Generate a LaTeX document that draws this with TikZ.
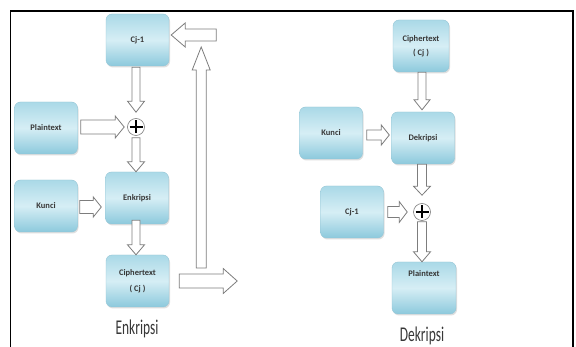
\documentclass[tikz,border=0pt]{standalone}
\usepackage{fontspec}
\setmainfont{Carlito}
\usetikzlibrary{calc,shadows}
\definecolor{boxtop}{RGB}{170,217,231}
\definecolor{boxmid}{RGB}{214,238,245}
\definecolor{boxbot}{RGB}{140,201,220}
\definecolor{boxedge}{RGB}{150,198,214}
\definecolor{txt}{RGB}{55,55,55}
\definecolor{arredge}{RGB}{125,125,125}
\newcommand\blockarr[5]{%
  \coordinate (bneck) at ($(#2)!#5!(#1)$);
  \draw[blk] ($(#1)!#3!90:(#2)$) -- ($(bneck)!#3!90:(#2)$) -- ($(bneck)!#4!90:(#2)$) -- (#2)
    -- ($(bneck)!#4!-90:(#2)$) -- ($(bneck)!#3!-90:(#2)$) -- ($(#1)!#3!-90:(#2)$) -- cycle;}
\newcommand\plussign[1]{%
  \draw[line width=1.7pt,black] ($(#1.center)+(-6.5,0)$) -- ($(#1.center)+(6.5,0)$);
  \draw[line width=1.7pt,black] ($(#1.center)+(0,-6.5)$) -- ($(#1.center)+(0,6.5)$);}
\newcommand\narrowtxt[1]{\scalebox{0.64}[1]{#1}}
\begin{document}
\begin{tikzpicture}[x=1pt,y=-1pt,
  box/.style={rounded corners=6pt, minimum width=63pt, minimum height=52pt,
    draw=boxedge, line width=0.4pt, top color=boxtop, bottom color=boxbot, middle color=boxmid,
    drop shadow={opacity=0.25, shadow xshift=1pt, shadow yshift=-1.5pt},
    font=\bfseries\fontsize{8.5}{11}\selectfont, text=txt, align=center, inner sep=2pt},
  xorc/.style={circle, draw=arredge, line width=0.6pt, fill=white, minimum size=17pt, inner sep=0pt},
  blk/.style={draw=arredge, fill=white, line width=0.8pt, line join=miter},
  title/.style={font=\fontsize{21}{24}\selectfont, text=txt}]
\useasboundingbox (0,0) rectangle (576,347);
\fill[white] (0,0) rectangle (576,347);
\draw[line width=1.6pt] (10.5,352) -- (10.5,11) -- (573,11) -- (573,352);

% ---- Enkripsi ----
\node[box] (cj1) at (137.5,40) {Cj-1};
\node[box] (plain) at (46,128) {Plaintext};
\node[xorc] (plusL) at (136,127) {};
\node[box] (enk) at (137,198) {Enkripsi};
\node[box] (kunciL) at (46,206) {Kunci};
\node[box] (ciphL) at (137.5,281) {Ciphertext\\[5pt]( Cj )};
\node[title] (lblE) at (137,329) {\narrowtxt{Enkripsi}};
\plussign{plusL}

\coordinate (a1s) at ($(cj1.south -| plusL.center)+(0,1)$);
\coordinate (a1e) at ($(plusL.north)+(0,-6)$);
\blockarr{a1s}{a1e}{4pt}{8.5pt}{11pt}
\coordinate (a2s) at ($(plain.east |- plusL.center)+(3,0)$);
\coordinate (a2e) at ($(plusL.west)+(-3,0)$);
\blockarr{a2s}{a2e}{7pt}{11pt}{9pt}
\coordinate (a3s) at ($(plusL.south)+(0,2)$);
\coordinate (a3e) at (enk.north -| plusL.center);
\blockarr{a3s}{a3e}{4pt}{8.5pt}{10pt}
\coordinate (a4s) at ($(kunciL.east)+(2,1)$);
\coordinate (a4e) at ($(enk.west |- a4s)+(-4,0)$);
\blockarr{a4s}{a4e}{6.5pt}{10pt}{8pt}
\coordinate (a5s) at ($(enk.south -| plusL.center)+(0,-4)$);
\coordinate (a5e) at (ciphL.north -| plusL.center);
\blockarr{a5s}{a5e}{4pt}{8.5pt}{10pt}
\coordinate (a6s) at ($(ciphL.east)+(10,0)$);
\coordinate (a6e) at ($(ciphL.east)+(68,0)$);
\blockarr{a6s}{a6e}{7pt}{12.5pt}{14pt}
\coordinate (a7s) at ($(ciphL.east)+(32,-13)$);
\coordinate (a7e) at ($(cj1.east)+(32,7)$);
\blockarr{a7s}{a7e}{5pt}{9pt}{23pt}
\coordinate (a8s) at ($(cj1.east)+(47,-5)$);
\coordinate (a8e) at ($(cj1.east)+(2,-5)$);
\blockarr{a8s}{a8e}{6pt}{12pt}{14pt}

% ---- Dekripsi ----
\node[box, minimum width=56pt] (ciphR) at (421,46) {Ciphertext\\[3pt]( Cj )};
\node[box] (kunciR) at (331,133) {Kunci};
\node[box] (dek) at (423,138) {Dekripsi};
\node[xorc] (plusR) at (422,212) {};
\node[box] (cj1R) at (352,212) {Cj-1};
\node[box, minimum width=64pt] (plainR) at (424,288) {Plaintext\\[18pt]\mbox{}};
\node[title] (lblD) at (422,336) {\narrowtxt{Dekripsi}};
\plussign{plusR}

\coordinate (b1s) at (ciphR.south -| plusR.center);
\coordinate (b1e) at ($(dek.north -| plusR.center)+(0,-2)$);
\blockarr{b1s}{b1e}{4pt}{8pt}{10pt}
\coordinate (b2s) at ($(kunciR.east)+(4,2)$);
\coordinate (b2e) at ($(dek.west |- b2s)+(-2,0)$);
\blockarr{b2s}{b2e}{5pt}{10pt}{8pt}
\coordinate (b3s) at (dek.south -| plusR.center);
\coordinate (b3e) at ($(plusR.north)+(0,-8)$);
\blockarr{b3s}{b3e}{4.5pt}{8.5pt}{9pt}
\coordinate (b4s) at ($(cj1R.east)+(4,0)$);
\coordinate (b4e) at ($(plusR.west)+(-6,0)$);
\blockarr{b4s}{b4e}{5.5pt}{10.5pt}{8pt}
\coordinate (b5s) at ($(plusR.south)+(0,1)$);
\coordinate (b5e) at (plainR.north -| plusR.center);
\blockarr{b5s}{b5e}{4.5pt}{8.5pt}{10pt}
\end{tikzpicture}
\end{document}
